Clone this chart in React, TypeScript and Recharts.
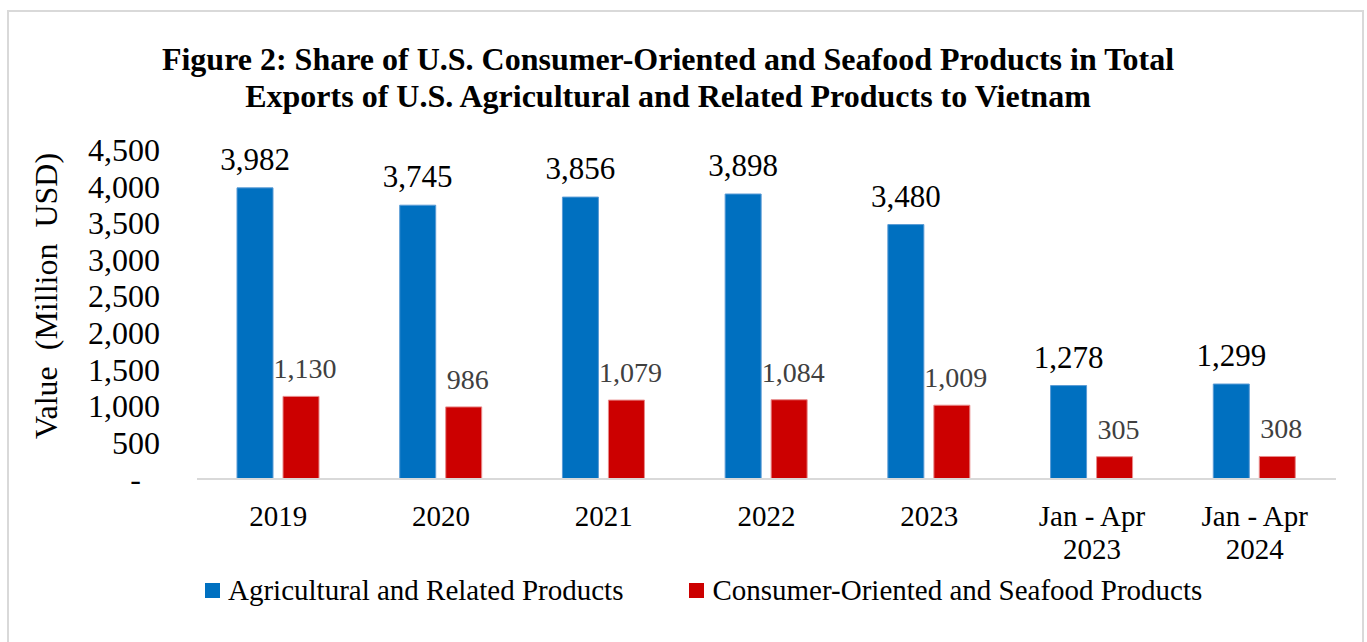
import React from "react";
import { BarChart, Bar, XAxis, YAxis, Legend, LabelList } from "recharts";

const categories = ["2019", "2020", "2021", "2022", "2023", "Jan - Apr\n2023", "Jan - Apr\n2024"];
const agricultural = [3982, 3745, 3856, 3898, 3480, 1278, 1299];
const consumerSeafood = [1130, 986, 1079, 1084, 1009, 305, 308];
const yTicks = [0, 500, 1000, 1500, 2000, 2500, 3000, 3500, 4000, 4500];

const seriesNames = ["Agricultural and Related Products", "Consumer-Oriented and Seafood Products"];
const BLUE = "#0070C0";
const RED = "#CC0000";
const FONT = '"Liberation Serif", "Times New Roman", serif';

const data = categories.map((c, i) => ({
  category: c,
  agri: agricultural[i],
  consumer: consumerSeafood[i],
}));

const fmt = (v: number) => v.toLocaleString("en-US");

function YTick(props: any) {
  const { x, y, payload } = props;
  const v = payload.value as number;
  return (
    <text
      x={v === 0 ? x - 19 : x}
      y={y}
      dy="0.35em"
      textAnchor="end"
      fontSize={32}
      fontFamily={FONT}
      fill="#000"
    >
      {v === 0 ? "-" : fmt(v)}
    </text>
  );
}

function XTick(props: any) {
  const { x, y, payload } = props;
  const lines = String(payload.value).split("\n");
  return (
    <text x={x} y={y} textAnchor="middle" fontSize={29} fontFamily={FONT} fill="#000">
      {lines.map((l, i) => (
        <tspan key={i} x={x} dy={i === 0 ? 45 : 33}>
          {l}
        </tspan>
      ))}
    </text>
  );
}

function LegendBox() {
  const colors = [BLUE, RED];
  return (
    <div style={{ display: "flex", alignItems: "center", fontFamily: FONT, fontSize: 29 }}>
      {seriesNames.map((n, i) => (
        <div key={n} style={{ display: "flex", alignItems: "center", marginRight: 66 }}>
          <span style={{ width: 15, height: 15, background: colors[i], marginRight: 8, display: "inline-block" }} />
          <span style={{ color: "#000" }}>{n}</span>
        </div>
      ))}
    </div>
  );
}

export default function App() {
  return (
    <div style={{ position: "absolute", left: 0, top: 0, width: 1367, height: 642, background: "#fff" }}>
      <div
        style={{
          position: "absolute",
          left: 7,
          top: 10,
          width: 1357,
          height: 645,
          border: "2px solid #d9d9d9",
          boxSizing: "border-box",
        }}
      />
      <div
        style={{
          position: "absolute",
          left: 0,
          top: 41,
          width: 1336,
          textAlign: "center",
          fontFamily: FONT,
          fontWeight: "bold",
          fontSize: 32,
          lineHeight: "37px",
          color: "#000",
        }}
      >
        Figure 2: Share of U.S. Consumer-Oriented and Seafood Products in Total
        <br />
        Exports of U.S. Agricultural and Related Products to Vietnam
      </div>
      <div style={{ position: "absolute", left: 0, top: 0 }}>
        <BarChart
          width={1367}
          height={642}
          data={data}
          margin={{ top: 150, right: 31, bottom: 83, left: 0 }}
          barSize={36}
          barGap={10}
        >
          <XAxis
            dataKey="category"
            height={80}
            tick={<XTick />}
            tickLine={false}
            tickSize={0}
            axisLine={{ stroke: "#d9d9d9", strokeWidth: 2 }}
            interval={0}
          />
          <YAxis
            width={197}
            domain={[0, 4500]}
            ticks={yTicks}
            tick={<YTick />}
            tickLine={false}
            tickSize={0}
            tickMargin={37}
            axisLine={false}
            label={{
              content: () => (
                <text
                  transform="translate(57, 296) rotate(-90)"
                  textAnchor="middle"
                  fontSize={32}
                  fontFamily={FONT}
                  fill="#000"
                  style={{ whiteSpace: "pre" }}
                >
                  {"Value  (Million  USD)"}
                </text>
              ),
            }}
          />
          <Legend
            content={<LegendBox />}
            layout="horizontal"
            verticalAlign="middle"
            wrapperStyle={{ position: "absolute", top: 574, left: 205, width: 1100 }}
          />
          <Bar dataKey="agri" name={seriesNames[0]} fill={BLUE} stroke="#5a9bd5" strokeWidth={1} isAnimationActive={false}>
            <LabelList
              dataKey="agri"
              position="top"
              offset={18}
              formatter={(v: any) => fmt(Number(v))}
              style={{ fontSize: 31, fontFamily: FONT, fill: "#000" }}
            />
          </Bar>
          <Bar dataKey="consumer" name={seriesNames[1]} fill={RED} stroke="#e88a8a" strokeWidth={1} isAnimationActive={false}>
            <LabelList
              dataKey="consumer"
              position="top"
              offset={18}
              dx={4}
              formatter={(v: any) => fmt(Number(v))}
              style={{ fontSize: 28, fontFamily: FONT, fill: "#404040" }}
            />
          </Bar>
        </BarChart>
      </div>
    </div>
  );
}
